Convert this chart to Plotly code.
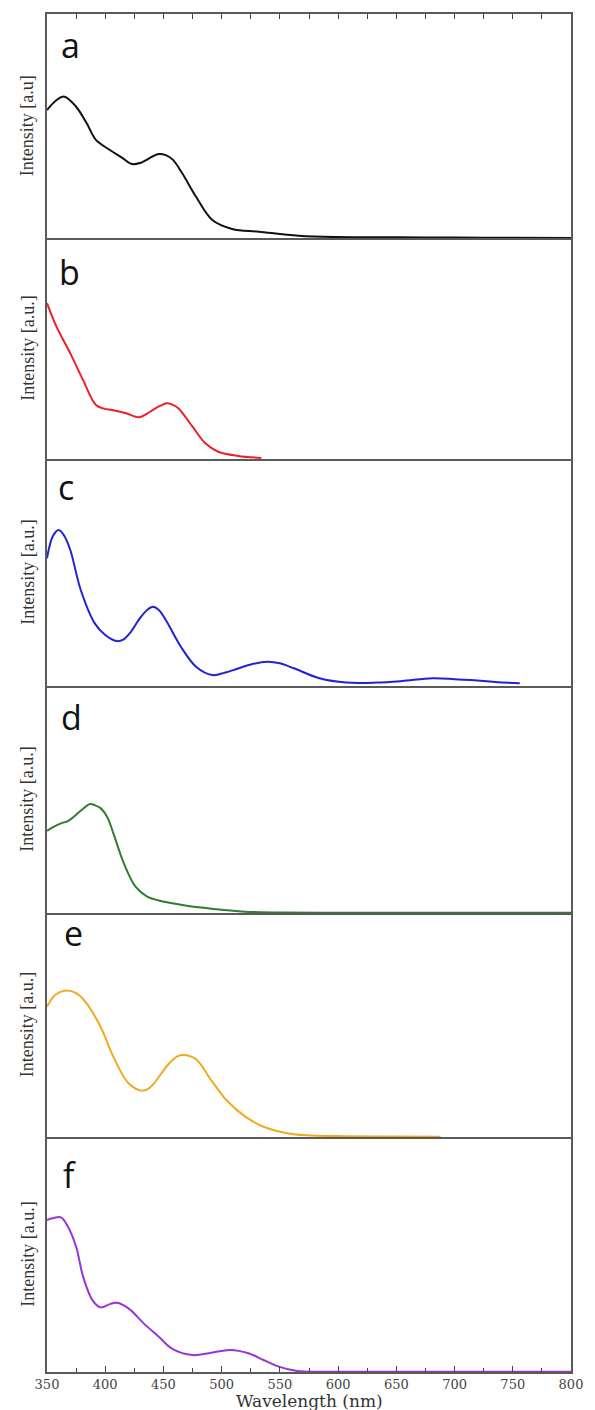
import plotly.graph_objects as go

# ---------------- data (normalized intensity per panel) ----------------
wl_a = [350, 358, 365, 375, 384, 392, 404, 414, 423, 430, 435, 441, 446, 452, 458, 466, 478, 492, 509, 532, 566, 600, 650, 700, 750, 800]
int_a = [0.571, 0.615, 0.631, 0.586, 0.513, 0.438, 0.393, 0.360, 0.330, 0.335, 0.348, 0.365, 0.375, 0.370, 0.350, 0.290, 0.184, 0.080, 0.040, 0.028, 0.010, 0.004, 0.003, 0.002, 0.001, 0.0]

wl_b = [350, 358, 370, 381, 392, 399, 406, 418, 429, 436, 441, 447, 453, 458, 463, 475, 486, 497, 514, 534]
int_b = [0.705, 0.600, 0.478, 0.357, 0.244, 0.228, 0.222, 0.207, 0.189, 0.205, 0.222, 0.240, 0.252, 0.245, 0.229, 0.146, 0.071, 0.033, 0.014, 0.005]

wl_c = [350, 355, 360, 365, 370, 379, 391, 400, 410, 415, 421, 430, 436, 441, 446, 452, 465, 478, 492, 500, 510, 525, 539, 550, 562, 584, 607, 633, 655, 681, 700, 714, 735, 756]
int_c = [0.563, 0.660, 0.687, 0.660, 0.599, 0.423, 0.276, 0.225, 0.198, 0.203, 0.232, 0.300, 0.335, 0.349, 0.335, 0.291, 0.173, 0.085, 0.048, 0.055, 0.070, 0.095, 0.107, 0.100, 0.078, 0.034, 0.015, 0.015, 0.022, 0.034, 0.030, 0.026, 0.018, 0.012]

wl_d = [350, 356, 362, 368, 373, 380, 387, 391, 396, 402, 407, 416, 426, 436, 446, 455, 470, 488, 505, 520, 552, 600, 650, 700, 750, 800]
int_d = [0.362, 0.380, 0.395, 0.405, 0.424, 0.455, 0.480, 0.475, 0.462, 0.420, 0.351, 0.219, 0.116, 0.072, 0.055, 0.045, 0.032, 0.021, 0.012, 0.006, 0.002, 0.001, 0.001, 0.001, 0.001, 0.001]

wl_e = [350, 357, 365, 375, 384, 396, 407, 420, 431, 437, 442, 449, 455, 462, 468, 478, 491, 504, 520, 536, 562, 600, 649, 688]
int_e = [0.582, 0.634, 0.653, 0.642, 0.597, 0.492, 0.358, 0.240, 0.207, 0.215, 0.240, 0.290, 0.329, 0.360, 0.366, 0.347, 0.254, 0.165, 0.092, 0.046, 0.012, 0.004, 0.002, 0.001]

wl_f = [350, 355, 362, 368, 375, 381, 389, 396, 404, 410, 420, 433, 446, 458, 475, 491, 507, 523, 536, 549, 565, 584, 600, 650, 700, 750, 800]
int_f = [0.647, 0.654, 0.658, 0.618, 0.533, 0.406, 0.306, 0.275, 0.289, 0.295, 0.271, 0.207, 0.150, 0.097, 0.072, 0.082, 0.094, 0.080, 0.051, 0.023, 0.004, 0.001, 0.001, 0.001, 0.001, 0.001, 0.001]

panel_letters = ["a", "b", "c", "d", "e", "f"]
y_titles = ["Intensity [a.u]", "Intensity [a.u.]", "Intensity [a.u.]",
            "Intensity [a.u.]", "Intensity [a.u.]", "Intensity [a.u.]"]
x_ticks = [350, 400, 450, 500, 550, 600, 650, 700, 750, 800]
x_title = "Wavelength (nm)"

series = [(wl_a, int_a), (wl_b, int_b), (wl_c, int_c), (wl_d, int_d), (wl_e, int_e), (wl_f, int_f)]
colors = ["#111111", "#ee1f26", "#2121d6", "#2e7f2e", "#f2a922", "#9a33d8"]

# ---------------- layout geometry (pixels) ----------------
W, H = 595, 1410
L, R, T, B = 47, 575, 14, 1372
panel_bounds = [(14, 238), (238, 459), (459, 686), (686, 913), (913, 1137), (1137, 1372)]
letter_y = [45, 272, 487, 717, 933, 1175]
letter_x = [71, 70, 66, 72, 74, 70]

def py(Y):
    return (B - Y) / (B - T)

def px(X):
    return (X - L) / (R - L)

fig = go.Figure()
layout = dict(
    width=W, height=H,
    margin=dict(l=L, r=W - R, t=T, b=H - B, pad=0),
    paper_bgcolor="white", plot_bgcolor="white",
    showlegend=False,
)

annotations = []
line_col = "#5a5a5a"
for i, ((x, y), col) in enumerate(zip(series, colors)):
    n = i + 1
    xa = "x" if n == 1 else f"x{n}"
    ya = "y" if n == 1 else f"y{n}"
    fig.add_trace(go.Scatter(x=x, y=y, mode="lines", xaxis=xa, yaxis=ya,
                             line=dict(color=col, width=2, shape="spline", smoothing=1.0),
                             hoverinfo="skip"))
    top, bot = panel_bounds[i]
    xkey = "xaxis" if n == 1 else f"xaxis{n}"
    ykey = "yaxis" if n == 1 else f"yaxis{n}"
    xax = dict(domain=[0, 1], anchor=ya, range=[350, 800], showgrid=False, zeroline=False,
               showline=True, mirror=False, linecolor=line_col, linewidth=1.5,
               showticklabels=False, ticks="", side="bottom")
    if n == 1:
        xax.update(side="top", mirror=True, ticks="inside", ticklen=5, tickwidth=1.2, tickcolor="#444",
                   tickvals=x_ticks,
                   minor=dict(ticks="inside", dtick=25, tick0=350, ticklen=5, tickwidth=1.2, tickcolor="#444"))
    if n == 6:
        xax.update(side="bottom", ticks="inside", ticklen=6, tickwidth=1.2, tickcolor="#444",
                   tickvals=x_ticks, ticktext=[str(v) for v in x_ticks], showticklabels=True,
                   tickfont=dict(family="DejaVu Serif", size=13, color="#444"),
                   minor=dict(ticks="inside", dtick=25, tick0=350, ticklen=4, tickwidth=1.2, tickcolor="#444"))
    layout[xkey] = xax
    layout[ykey] = dict(domain=[py(bot), py(top)], anchor=xa, range=[0, 1],
                        showgrid=False, zeroline=False, showline=True, mirror=True,
                        linecolor=line_col, linewidth=1.5, showticklabels=False, ticks="")
    # panel letter
    annotations.append(dict(text=panel_letters[i], xref="paper", yref="paper",
                            x=px(letter_x[i]), y=py(letter_y[i]), xanchor="center", yanchor="middle",
                            showarrow=False, font=dict(family="Open Sans", size=34, color="#111")))
    # y title
    annotations.append(dict(text=y_titles[i], xref="paper", yref="paper",
                            x=px(27), y=py((top + bot) / 2), xanchor="center", yanchor="middle",
                            textangle=-90, showarrow=False,
                            font=dict(family="Liberation Serif", size=18, color="#333")))

annotations.append(dict(text=x_title, xref="paper", yref="paper", x=px(312), y=py(1401),
                        xanchor="center", yanchor="middle", showarrow=False,
                        font=dict(family="DejaVu Serif", size=17, color="#333")))
layout["annotations"] = annotations
fig.update_layout(**layout)
fig.write_html("out.html")
